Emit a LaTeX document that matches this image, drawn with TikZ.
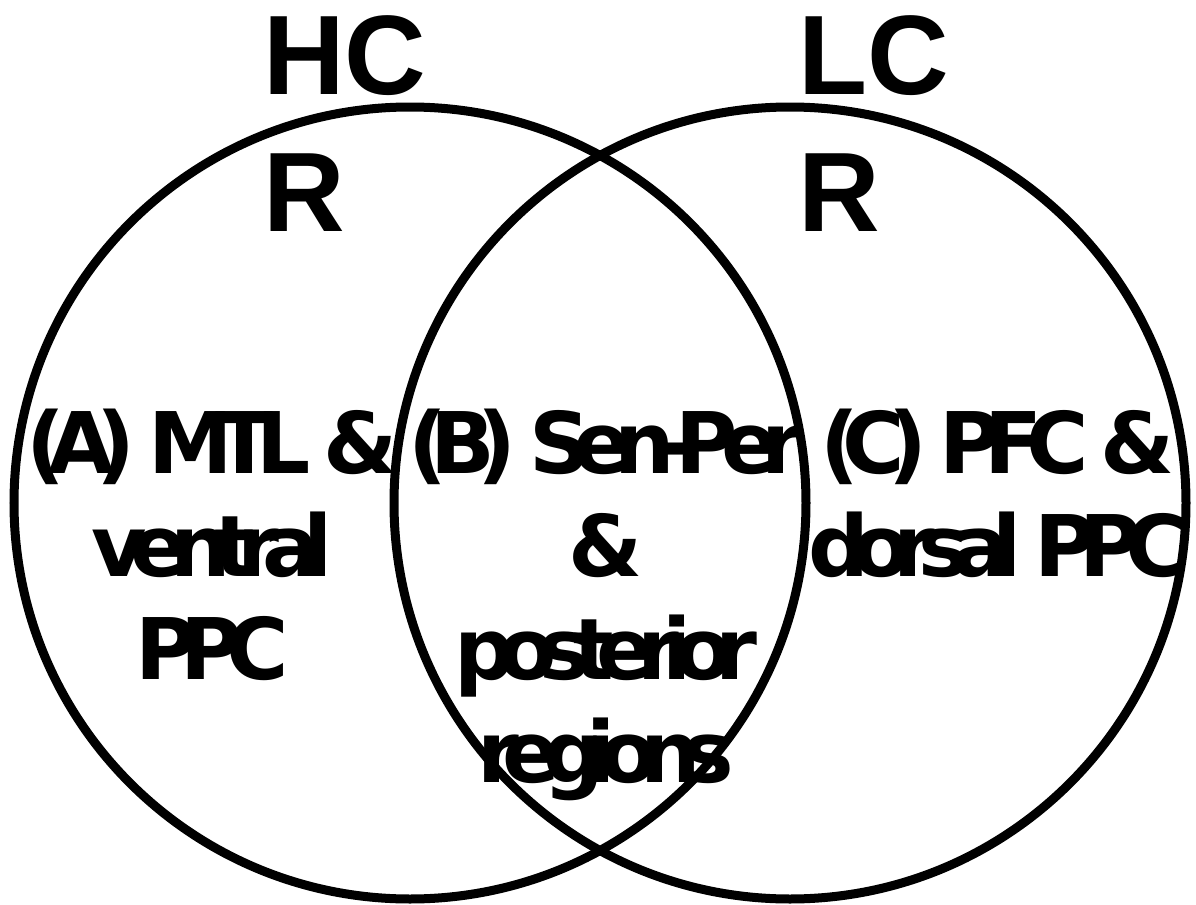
\documentclass[tikz,border=0pt]{standalone}
\usepackage{fontspec}
\newfontfamily\capfont{Liberation Sans}
\newfontfamily\regionfont{DejaVu Sans}[LetterSpace=-20]
\usetikzlibrary{positioning}

\begin{document}
\begin{tikzpicture}[
    x=0.5pt, y=-0.5pt,
    ring/.style={circle, draw, line width=4.5pt, minimum size=396pt, inner sep=0pt},
    setname/.style={font=\capfont\bfseries\fontsize{56.5}{68.5}\selectfont, align=left, anchor=base west, inner sep=0pt},
    region/.style={font=\regionfont\bfseries\fontsize{42.5}{51.5}\selectfont, align=center, anchor=base, inner sep=0pt},
]
\useasboundingbox (0,0) rectangle (1196,905);

% The two sets
\node[ring] (hcset) at (410,503) {};
\node[ring] (lcset) at (790,503) {};

% Set names
\node[setname] (hcname) at (263,231) {HC\\R};
\node[setname] (lcname) at (798,231) {LC\\R};

% Regions
\node[region] (rega) at (212,679) {(A) MTL \&\\ventral\\PPC};
\node[region] (regb) at (606,782) {(B) Sen-Per\\\&\\posterior\\regions};
\node[region] (regc) at (998,576) {(C) PFC \&\\dorsal PPC};

\end{tikzpicture}
\end{document}
